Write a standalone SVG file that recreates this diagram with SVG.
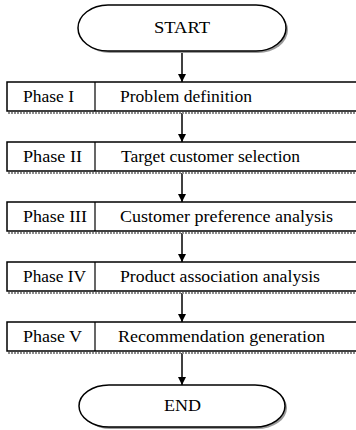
<svg xmlns="http://www.w3.org/2000/svg" width="356" height="430" viewBox="0 0 356 430">
  <style>
    .edge { fill: #fff; stroke: #000; stroke-width: 1.5; }
    .shadow { fill: none; stroke: #8a8a8a; stroke-width: 2; stroke-dasharray: 2 1; }
    .div { stroke: #000; stroke-width: 1.2; }
    text { font-family: "Liberation Serif", "Times New Roman", serif; font-size: 16px; fill: #000; }
    .link { stroke: #000; stroke-width: 1.5; fill: none; marker-end: url(#arrow); }
  </style>
  <defs>
    <marker id="arrow" viewBox="0 0 8 10" refX="8" refY="5" markerWidth="8" markerHeight="10" markerUnits="userSpaceOnUse" orient="auto">
      <path d="M0,1 L8,5 L0,9 z" fill="#000"/>
    </marker>
  </defs>

  <!-- connectors -->
  <g id="connectors">
    <line class="link" x1="182" y1="52" x2="182" y2="82"/>
    <line class="link" x1="182" y1="113" x2="182" y2="142"/>
    <line class="link" x1="182" y1="173" x2="182" y2="202"/>
    <line class="link" x1="182" y1="233" x2="182" y2="262"/>
    <line class="link" x1="182" y1="293" x2="182" y2="322"/>
    <line class="link" x1="182" y1="353" x2="182" y2="385"/>
  </g>

  <!-- terminals -->
  <g id="start">
    <rect x="80" y="7" width="208" height="46" rx="30" ry="23" fill="#9a9a9a"/>
    <rect class="edge" x="78" y="5" width="208" height="46" rx="30" ry="23"/>
    <text x="154" y="33" textLength="56" lengthAdjust="spacingAndGlyphs">START</text>
  </g>

  <g id="phase1">
    <line class="shadow" x1="8" y1="113" x2="358" y2="113"/>
    <rect class="edge" x="7" y="82" width="352" height="29"/>
    <line class="div" x1="95" y1="82" x2="95" y2="111"/>
    <text x="23" y="102" textLength="51" lengthAdjust="spacingAndGlyphs">Phase I</text>
    <text x="120" y="102" textLength="132" lengthAdjust="spacingAndGlyphs">Problem definition</text>
  </g>

  <g id="phase2">
    <line class="shadow" x1="8" y1="173" x2="358" y2="173"/>
    <rect class="edge" x="7" y="142" width="352" height="29"/>
    <line class="div" x1="95" y1="142" x2="95" y2="171"/>
    <text x="23" y="162" textLength="59" lengthAdjust="spacingAndGlyphs">Phase II</text>
    <text x="121" y="162" textLength="179" lengthAdjust="spacingAndGlyphs">Target customer selection</text>
  </g>

  <g id="phase3">
    <line class="shadow" x1="8" y1="233" x2="358" y2="233"/>
    <rect class="edge" x="7" y="202" width="352" height="29"/>
    <line class="div" x1="95" y1="202" x2="95" y2="231"/>
    <text x="23" y="222" textLength="64" lengthAdjust="spacingAndGlyphs">Phase III</text>
    <text x="120" y="222" textLength="213" lengthAdjust="spacingAndGlyphs">Customer preference analysis</text>
  </g>

  <g id="phase4">
    <line class="shadow" x1="8" y1="293" x2="358" y2="293"/>
    <rect class="edge" x="7" y="262" width="352" height="29"/>
    <line class="div" x1="95" y1="262" x2="95" y2="291"/>
    <text x="23" y="282" textLength="63" lengthAdjust="spacingAndGlyphs">Phase IV</text>
    <text x="120" y="282" textLength="200" lengthAdjust="spacingAndGlyphs">Product association analysis</text>
  </g>

  <g id="phase5">
    <line class="shadow" x1="8" y1="353" x2="358" y2="353"/>
    <rect class="edge" x="7" y="322" width="352" height="29"/>
    <line class="div" x1="95" y1="322" x2="95" y2="351"/>
    <text x="23" y="342" textLength="59" lengthAdjust="spacingAndGlyphs">Phase V</text>
    <text x="118" y="342" textLength="207" lengthAdjust="spacingAndGlyphs">Recommendation generation</text>
  </g>

  <g id="end">
    <rect x="81" y="387" width="206" height="42" rx="30" ry="21" fill="#9a9a9a"/>
    <rect class="edge" x="79" y="385" width="206" height="42" rx="30" ry="21"/>
    <text x="164" y="411" textLength="37" lengthAdjust="spacingAndGlyphs">END</text>
  </g>
</svg>
